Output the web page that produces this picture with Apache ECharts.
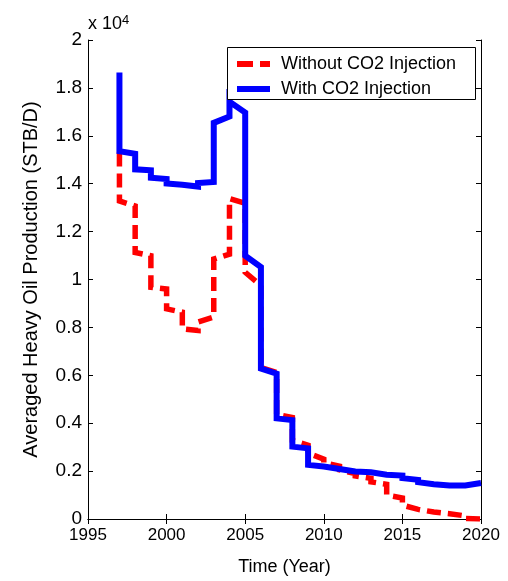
<!DOCTYPE html>
<html>
<head>
<meta charset="utf-8">
<script src="https://cdn.jsdelivr.net/npm/echarts@6/dist/echarts.min.js"></script>
<style>
html,body{margin:0;padding:0;background:#fff;}
#chart{width:508px;height:581px;}
</style>
</head>
<body>
<div id="chart"></div>
<script>
// ---- data (STB/D) : value at start and at end of each year ----
var years = [1997,1998,1999,2000,2001,2002,2003,2004,2005,2006,2007,2008,2009,2010,2011,2012,2013,2014,2015,2016,2017,2018,2019];
var withoutStart = [13280,11130,9676,8773,7942,8220,10852,13376,10300,6320,4370,3280,2750,2350,2050,1800,1550,1000,580,380,270,200,20];
var withoutEnd   = [13070,10990,9605,8636,7871,8428,11060,13180,9750,6120,4240,3080,2500,2200,1900,1700,1450,880,400,290,220,130,0];
var withStart    = [15356,14600,14250,14010,13900,14030,16540,17420,10990,6280,4200,3020,2260,2120,2010,1950,1870,1840,1705,1540,1400,1400,1480];
var withEnd      = [15250,14560,14200,13960,13880,14070,16810,16970,10520,6070,4130,2950,2190,2090,1980,1950,1850,1816,1634,1455,1400,1400,1500];
// short spikes at the start of a year
var withoutSpikeYears = [1997];
var withoutSpikes = [15300];
var withSpikeYears = [1997,2004];
var withSpikes = [18640,17950];

var xTicks = [1995,2000,2005,2010,2015,2020];
var seriesNames = ['Without CO2 Injection','With CO2 Injection'];

function build(starts, ends, spikeYears, spikes){
  var pts = [];
  for (var i = 0; i < years.length; i++){
    var k = spikeYears.indexOf(years[i]);
    if (k >= 0) pts.push([years[i], spikes[k]]);
    pts.push([years[i], starts[i]]);
    pts.push([years[i] + 1, ends[i]]);
  }
  return pts;
}

var font = 'Liberation Sans, Arial, sans-serif';
var chart = echarts.init(document.getElementById('chart'), null, {renderer:'canvas'});
var axisCommon = {
  axisLine:{show:true, lineStyle:{color:'#000', width:1}},
  axisTick:{show:true, inside:true, length:5, lineStyle:{color:'#000', width:1}},
  splitLine:{show:false}
};
chart.setOption({
  animation:false,
  backgroundColor:'#fff',
  grid:{left:88, right:27, top:40, bottom:60, containLabel:false},
  xAxis:[
    Object.assign({type:'value', min:xTicks[0], max:xTicks[xTicks.length-1], interval:5, position:'bottom',
      axisLabel:{color:'#000', fontSize:17, fontFamily:font, margin:8, formatter:function(v){return String(v);}},
      name:'Time (Year)', nameLocation:'middle', nameGap:39,
      nameTextStyle:{color:'#000', fontSize:18, fontFamily:font}}, axisCommon),
    Object.assign({type:'value', min:xTicks[0], max:xTicks[xTicks.length-1], interval:5, position:'top',
      axisLabel:{show:false}}, axisCommon)
  ],
  yAxis:[
    Object.assign({type:'value', min:0, max:20000, interval:2000, position:'left',
      axisLabel:{color:'#000', fontSize:19, fontFamily:font, margin:6,
        formatter:function(v){return String(+(v/10000).toFixed(1));}},
      name:'Averaged Heavy Oil Production (STB/D)', nameLocation:'middle', nameGap:47, nameRotate:90,
      nameTextStyle:{color:'#000', fontSize:20, fontFamily:font}}, axisCommon),
    Object.assign({type:'value', min:0, max:20000, interval:2000, position:'right',
      axisLabel:{show:false}}, axisCommon)
  ],
  legend:{
    data:[
      {name:seriesNames[0], icon:'path://M0,0h16v6h-16z M23,0h10v6h-10z', itemStyle:{color:'#ff0000'}},
      {name:seriesNames[1], icon:'path://M0,0h33v6h-33z', itemStyle:{color:'#0000ff'}}
    ],
    orient:'vertical', left:237, top:55, itemWidth:33, itemHeight:6, itemGap:7,
    padding:0, selectedMode:false, z:5,
    textStyle:{color:'#000', fontSize:18, fontFamily:font, lineHeight:14, padding:[0,0,0,6]}
  },
  graphic:[
    {type:'rect', z:4, shape:{x:227.5, y:47.5, width:248, height:52},
      style:{fill:'#fff', stroke:'#000', lineWidth:1}},
    {type:'text', z:4, left:88, top:14,
      style:{text:'x 10{s|4}', fill:'#000', font:'18px ' + font,
        rich:{s:{fontSize:13, fontFamily:font, verticalAlign:'top', padding:[0,0,8,0]}}}}
  ],
  series:[
    {name:seriesNames[0], type:'line', symbol:'none', z:2,
      data:build(withoutStart, withoutEnd, withoutSpikeYears, withoutSpikes),
      lineStyle:{color:'#ff0000', width:5.5, type:[14,7], cap:'butt', join:'miter'},
      itemStyle:{color:'#ff0000'}},
    {name:seriesNames[1], type:'line', symbol:'none', z:2,
      data:build(withStart, withEnd, withSpikeYears, withSpikes),
      lineStyle:{color:'#0000ff', width:6, join:'miter'},
      itemStyle:{color:'#0000ff'}}
  ]
});
</script>
</body>
</html>
